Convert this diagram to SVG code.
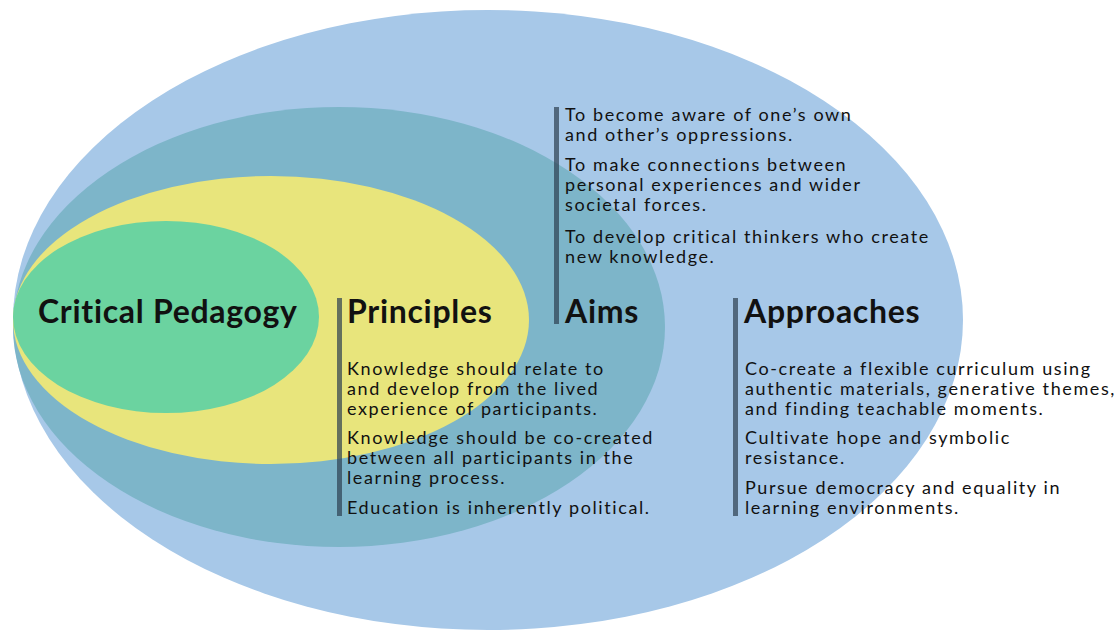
<svg xmlns="http://www.w3.org/2000/svg" width="1119" height="630" viewBox="0 0 1119 630">
<style>
.h{font-family:Lato,"Noto Sans",sans-serif;font-weight:bold;font-size:32px;letter-spacing:0.7px;fill:#111;}
.b{font-family:Lato,"Noto Sans",sans-serif;font-size:18px;letter-spacing:1.6px;fill:#111;}
.bar{fill:#2c3e50;fill-opacity:0.7;}
</style>
<rect width="1119" height="630" fill="#fff"/>
<g id="approaches-ring"><ellipse cx="488" cy="320" rx="475" ry="310" fill="#A7C8E8"/></g>
<g id="aims-ring"><ellipse cx="339" cy="327" rx="326" ry="220" fill="#7DB5C9"/></g>
<g id="principles-ring"><ellipse cx="271" cy="320" rx="258" ry="144" fill="#E8E57C"/></g>
<g id="critical-pedagogy"><ellipse cx="166" cy="317" rx="153" ry="96" fill="#6BD3A0"/>
<text class="h" x="38" y="323">Critical Pedagogy</text></g>
<g id="principles">
<rect class="bar" x="337" y="298" width="5" height="218"/>
<text class="h" x="347" y="323">Principles</text>
<text class="b" x="347" y="375">Knowledge should relate to</text>
<text class="b" x="347" y="395">and develop from the lived</text>
<text class="b" x="347" y="415">experience of participants.</text>
<text class="b" x="347" y="444">Knowledge should be co-created</text>
<text class="b" x="347" y="464">between all participants in the</text>
<text class="b" x="347" y="484">learning process.</text>
<text class="b" x="347" y="514">Education is inherently political.</text>
</g>
<g id="aims">
<rect class="bar" x="554" y="107" width="5" height="217"/>
<text class="h" x="565" y="323">Aims</text>
<text class="b" x="565" y="121">To become aware of one’s own</text>
<text class="b" x="565" y="141">and other’s oppressions.</text>
<text class="b" x="565" y="171">To make connections between</text>
<text class="b" x="565" y="191">personal experiences and wider</text>
<text class="b" x="565" y="211">societal forces.</text>
<text class="b" x="565" y="243">To develop critical thinkers who create</text>
<text class="b" x="565" y="263">new knowledge.</text>
</g>
<g id="approaches">
<rect class="bar" x="733" y="298" width="5" height="218"/>
<text class="h" x="744" y="323">Approaches</text>
<text class="b" x="745" y="375">Co-create a flexible curriculum using</text>
<text class="b" x="745" y="395">authentic materials, generative themes,</text>
<text class="b" x="745" y="415">and finding teachable moments.</text>
<text class="b" x="745" y="444">Cultivate hope and symbolic</text>
<text class="b" x="745" y="464">resistance.</text>
<text class="b" x="745" y="494">Pursue democracy and equality in</text>
<text class="b" x="745" y="514">learning environments.</text>
</g>
<g id="connectors"/>
</svg>
